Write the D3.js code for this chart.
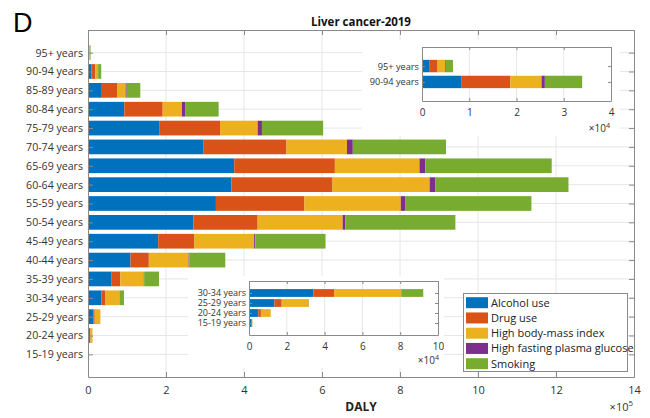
<!DOCTYPE html>
<html>
<head>
<meta charset="utf-8">
<script src="https://cdn.jsdelivr.net/npm/d3@7"></script>
<style>
  body { margin: 0; background: #fff; }
  svg { display: block; font-family: "Open Sans", "Noto Sans", sans-serif; }
</style>
</head>
<body>
<svg id="chart" width="650" height="418"></svg>
<script>
// Age groups, top to bottom
const ageGroups = ["95+ years", "90-94 years", "85-89 years", "80-84 years", "75-79 years",
  "70-74 years", "65-69 years", "60-64 years", "55-59 years", "50-54 years", "45-49 years",
  "40-44 years", "35-39 years", "30-34 years", "25-29 years", "20-24 years", "15-19 years"];

const riskFactors = ["Alcohol use", "Drug use", "High body-mass index",
  "High fasting plasma glucose", "Smoking"];

// DALYs attributable to each risk factor, by age group (same order as ageGroups)
const alcoholUse = [1500, 8400, 33300, 93200, 183800, 296600, 375000, 367500, 328000, 270000, 180000, 109000, 60700, 34000, 13400, 4900, 1200];
const drugUse    = [1800, 10300, 41100, 98300, 154700, 212400, 258000, 259500, 227000, 165000, 93000, 47000, 22300, 11000, 3900, 1400, 500];
const highBMI    = [1600, 6600, 22200, 49500, 96500, 155000, 217000, 249000, 247000, 218000, 153000, 102000, 60000, 35400, 14300, 5200, 100];
const highFPG    = [150, 700, 2500, 8000, 11000, 15000, 15000, 15000, 11000, 7000, 3000, 2000, 1000, 200, 50, 0, 0];
const smoking    = [1500, 7900, 35000, 86000, 157000, 239000, 324000, 341000, 324000, 282000, 180000, 92000, 38000, 11600, 100, 20, 0];

const colors = ["#0072BD", "#D95319", "#EDB120", "#7E2F8E", "#77AC30"];

const mainTicks = [0, 2e5, 4e5, 6e5, 8e5, 10e5, 12e5, 14e5];
const topInsetGroups = ["95+ years", "90-94 years"];
const topInsetTicks = [0, 1e4, 2e4, 3e4, 4e4];
const bottomInsetGroups = ["30-34 years", "25-29 years", "20-24 years", "15-19 years"];
const bottomInsetTicks = [0, 2e4, 4e4, 6e4, 8e4, 10e4];

const title = "Liver cancer-2019";
const xLabel = "DALY";
const panelLetter = "D";

// Build stacked rows
const table = ageGroups.map((g, i) => ({
  group: g,
  "Alcohol use": alcoholUse[i],
  "Drug use": drugUse[i],
  "High body-mass index": highBMI[i],
  "High fasting plasma glucose": highFPG[i],
  "Smoking": smoking[i]
}));
const stacked = d3.stack().keys(riskFactors)(table);

const svg = d3.select("#chart");
const axisColor = "#8a8a8a";
const textColor = "#333";
const gridColor = "#e6e6e6";
const barWidth = 0.78;

// Draws a boxed stacked horizontal bar panel
function drawPanel(opts) {
  const { groups, ticks, x0, x1, y0, y1, xmax, div, fontTick, fontCat, tickLen, catPad, tickPad, gridH } = opts;
  const n = groups.length;
  const x = d3.scaleLinear().domain([0, xmax]).range([x0, x1]);
  const y = d3.scaleLinear().domain([-1.2, n - 1 + 1.2]).range([y0, y1]);
  const g = svg.append("g");

  // grid
  g.append("g").selectAll("line").data(ticks.slice(1, -1)).join("line")
    .attr("x1", d => x(d)).attr("x2", d => x(d)).attr("y1", y0).attr("y2", y1)
    .attr("stroke", gridColor).attr("stroke-width", 1);
  if (gridH) {
    g.append("g").selectAll("line").data(d3.range(n)).join("line")
      .attr("x1", x0).attr("x2", x1).attr("y1", d => y(d)).attr("y2", d => y(d))
      .attr("stroke", gridColor).attr("stroke-width", 1);
  }

  // bars
  const idx = groups.map(gr => ageGroups.indexOf(gr));
  stacked.forEach((layer, k) => {
    g.append("g").attr("fill", colors[k]).selectAll("rect")
      .data(idx.map((ai, j) => ({ j, s: layer[ai] })))
      .join("rect")
      .attr("x", d => x(d.s[0]))
      .attr("width", d => Math.max(0, x(d.s[1]) - x(d.s[0])))
      .attr("y", d => y(d.j - barWidth / 2))
      .attr("height", d => y(barWidth / 2) - y(-barWidth / 2));
  });

  // axes with inward ticks
  const bottom = d3.axisBottom(x).tickValues(ticks).tickSizeInner(-tickLen).tickSizeOuter(0)
    .tickPadding(tickPad).tickFormat(d => d / div);
  const top = d3.axisTop(x).tickValues(ticks).tickSizeInner(-tickLen).tickSizeOuter(0).tickFormat("");
  const left = d3.axisLeft(y).tickValues(d3.range(n)).tickSizeInner(-tickLen).tickSizeOuter(0)
    .tickPadding(catPad).tickFormat(i => groups[i]);
  const right = d3.axisRight(y).tickValues(d3.range(n)).tickSizeInner(-tickLen).tickSizeOuter(0).tickFormat("");

  const styleAxis = (sel, fs) => {
    sel.select(".domain").attr("stroke", axisColor);
    sel.selectAll(".tick line").attr("stroke", axisColor);
    sel.selectAll(".tick text").attr("fill", textColor).style("font-size", fs + "px")
      .style("font-family", "'Open Sans', 'Noto Sans', sans-serif");
  };
  g.append("g").attr("transform", `translate(0,${y1})`).call(bottom).call(s => styleAxis(s, fontTick));
  g.append("g").attr("transform", `translate(0,${y0})`).call(top).call(s => styleAxis(s, fontTick));
  g.append("g").attr("transform", `translate(${x0},0)`).call(left).call(s => styleAxis(s, fontCat));
  g.append("g").attr("transform", `translate(${x1},0)`).call(right).call(s => styleAxis(s, fontCat));
  return { x, y };
}

function exponentLabel(xEnd, yBase, exp, fs) {
  const t = svg.append("text").attr("x", xEnd).attr("y", yBase).attr("text-anchor", "end")
    .attr("fill", textColor).style("font-size", fs + "px");
  t.append("tspan").text("\u00d710");
  t.append("tspan").attr("dy", -fs * 0.45).style("font-size", (fs * 0.72) + "px").text(exp);
}

// Main panel
drawPanel({ groups: ageGroups, ticks: mainTicks, x0: 88, x1: 634, y0: 30, y1: 377, xmax: 14e5, div: 1e5,
  fontTick: 11, fontCat: 10.6, tickLen: 5, catPad: 5, tickPad: 9, gridH: true });

svg.append("text").attr("x", 361).attr("y", 26).attr("text-anchor", "middle")
  .style("font-size", "11.5px").style("font-weight", "bold").attr("fill", "#111").text(title);
svg.append("text").attr("x", 361).attr("y", 411).attr("text-anchor", "middle")
  .style("font-size", "12px").style("font-weight", "bold").attr("fill", "#222").text(xLabel);
exponentLabel(633, 411, "5", 11);
svg.append("text").attr("x", 13).attr("y", 32).style("font-size", "27px")
  .style("font-family", "'Liberation Sans', Arial, sans-serif").attr("fill", "#000").text(panelLetter);

// Top inset
svg.append("rect").attr("x", 362).attr("y", 40).attr("width", 258).attr("height", 96).attr("fill", "#fff");
drawPanel({ groups: topInsetGroups, ticks: topInsetTicks, x0: 422, x1: 611, y0: 47, y1: 101, xmax: 4e4, div: 1e4,
  fontTick: 10, fontCat: 9.2, tickLen: 3, catPad: 3, tickPad: 8, gridH: false });
exponentLabel(610, 132, "4", 10);

// Bottom inset
svg.append("rect").attr("x", 188).attr("y", 276).attr("width", 256).attr("height", 92).attr("fill", "#fff");
drawPanel({ groups: bottomInsetGroups, ticks: bottomInsetTicks, x0: 249, x1: 438, y0: 281, y1: 335, xmax: 10e4, div: 1e4,
  fontTick: 10, fontCat: 9, tickLen: 3, catPad: 3, tickPad: 8, gridH: false });
exponentLabel(439, 364, "4", 10);

// Legend
const lg = svg.append("g");
lg.append("rect").attr("x", 463.5).attr("y", 293.5).attr("width", 164).attr("height", 78)
  .attr("fill", "#fff").attr("stroke", axisColor);
const legendY = d3.scalePoint().domain(riskFactors).range([302.7, 363.7]);
riskFactors.forEach((name, k) => {
  lg.append("rect").attr("x", 466).attr("y", legendY(name) - 5.5).attr("width", 22).attr("height", 11)
    .attr("fill", colors[k]);
  lg.append("text").attr("x", 491).attr("y", legendY(name)).attr("dy", "0.35em")
    .style("font-size", "11px").attr("fill", "#222").text(name);
});
</script>
</body>
</html>
